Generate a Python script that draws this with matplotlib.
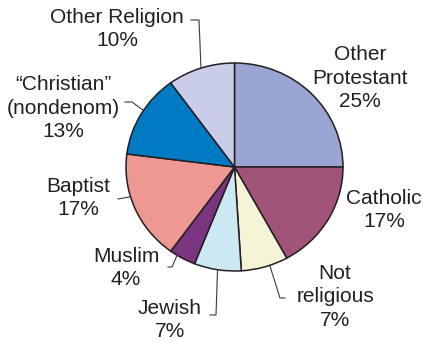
import numpy as np
import matplotlib
matplotlib.use("Agg")
import matplotlib.pyplot as plt

# Religious affiliation shares (percent), clockwise from 12 o'clock
categories = ["Other\nProtestant", "Catholic", "Not\nreligious", "Jewish", "Muslim",
              "Baptist", "\u201cChristian\u201d\n(nondenom)", "Other Religion"]
shares = [25, 17, 7, 7, 4, 17, 13, 10]
colors = ["#9AA5D3", "#A1537A", "#F4F3D6", "#CBE8F3", "#7B3480",
          "#EE9893", "#007BC3", "#CACDEA"]

TEXT = "#231F20"
W, H = 423, 342
fig = plt.figure(figsize=(W / 100, H / 100), dpi=100)

# pie box in pixels (left, top, right, bottom)
pl, pt, pr, pb = 126, 63, 343, 271
ax = fig.add_axes([pl / W, 1 - pb / H, (pr - pl) / W, (pb - pt) / H])
wedges, _ = ax.pie(shares, colors=colors, startangle=90, counterclock=False,
                   wedgeprops=dict(edgecolor=TEXT, linewidth=1.1))
ax.set_aspect("auto")
ax.set_xlim(-1, 1)
ax.set_ylim(-1, 1)
ax.axis("off")


def px(x, y):
    """Figure-pixel (from top-left) to figure fraction."""
    return x / W, 1 - y / H


# label block centres (pixels)
label_pos = {
    0: (360, 78), 1: (384, 210), 2: (335, 297), 3: (170, 320),
    4: (126, 268), 5: (78, 198), 6: (63, 108), 7: (117, 29),
}
# leader elbows (pixels); frac = position along the wedge arc, measured clockwise
leaders = {
    7: ([(191, 20), (199, 20)], 0.5),
    6: ([(125, 102), (132, 102)], 0.55),
    5: ([(118, 199)], 0.61),
    4: ([(168, 267), (172, 267)], 0.72),
    3: ([(210, 315), (216, 315)], 0.5),
    2: ([(285, 298), (280, 298)], 0.39),
}

for i, (cat, val) in enumerate(zip(categories, shares)):
    cx, cy = label_pos[i]
    fig.text(*px(cx, cy), f"{cat}\n{val}%", ha="center", va="center",
             fontsize=15, color=TEXT, family=["Liberation Sans", "DejaVu Sans"],
             linespacing=1.32)

to_fig = fig.transFigure.inverted()
for i, (pts, frac) in leaders.items():
    w = wedges[i]
    ang = np.deg2rad(w.theta2 - frac * (w.theta2 - w.theta1))
    edge = ax.transData.transform((np.cos(ang), np.sin(ang)))
    ex, ey = to_fig.transform(edge)
    xs = [px(*p)[0] for p in pts] + [ex]
    ys = [px(*p)[1] for p in pts] + [ey]
    fig.add_artist(plt.Line2D(xs, ys, color="#3A3A3A", linewidth=0.8,
                              transform=fig.transFigure))

fig.savefig("out.png", dpi=100)
